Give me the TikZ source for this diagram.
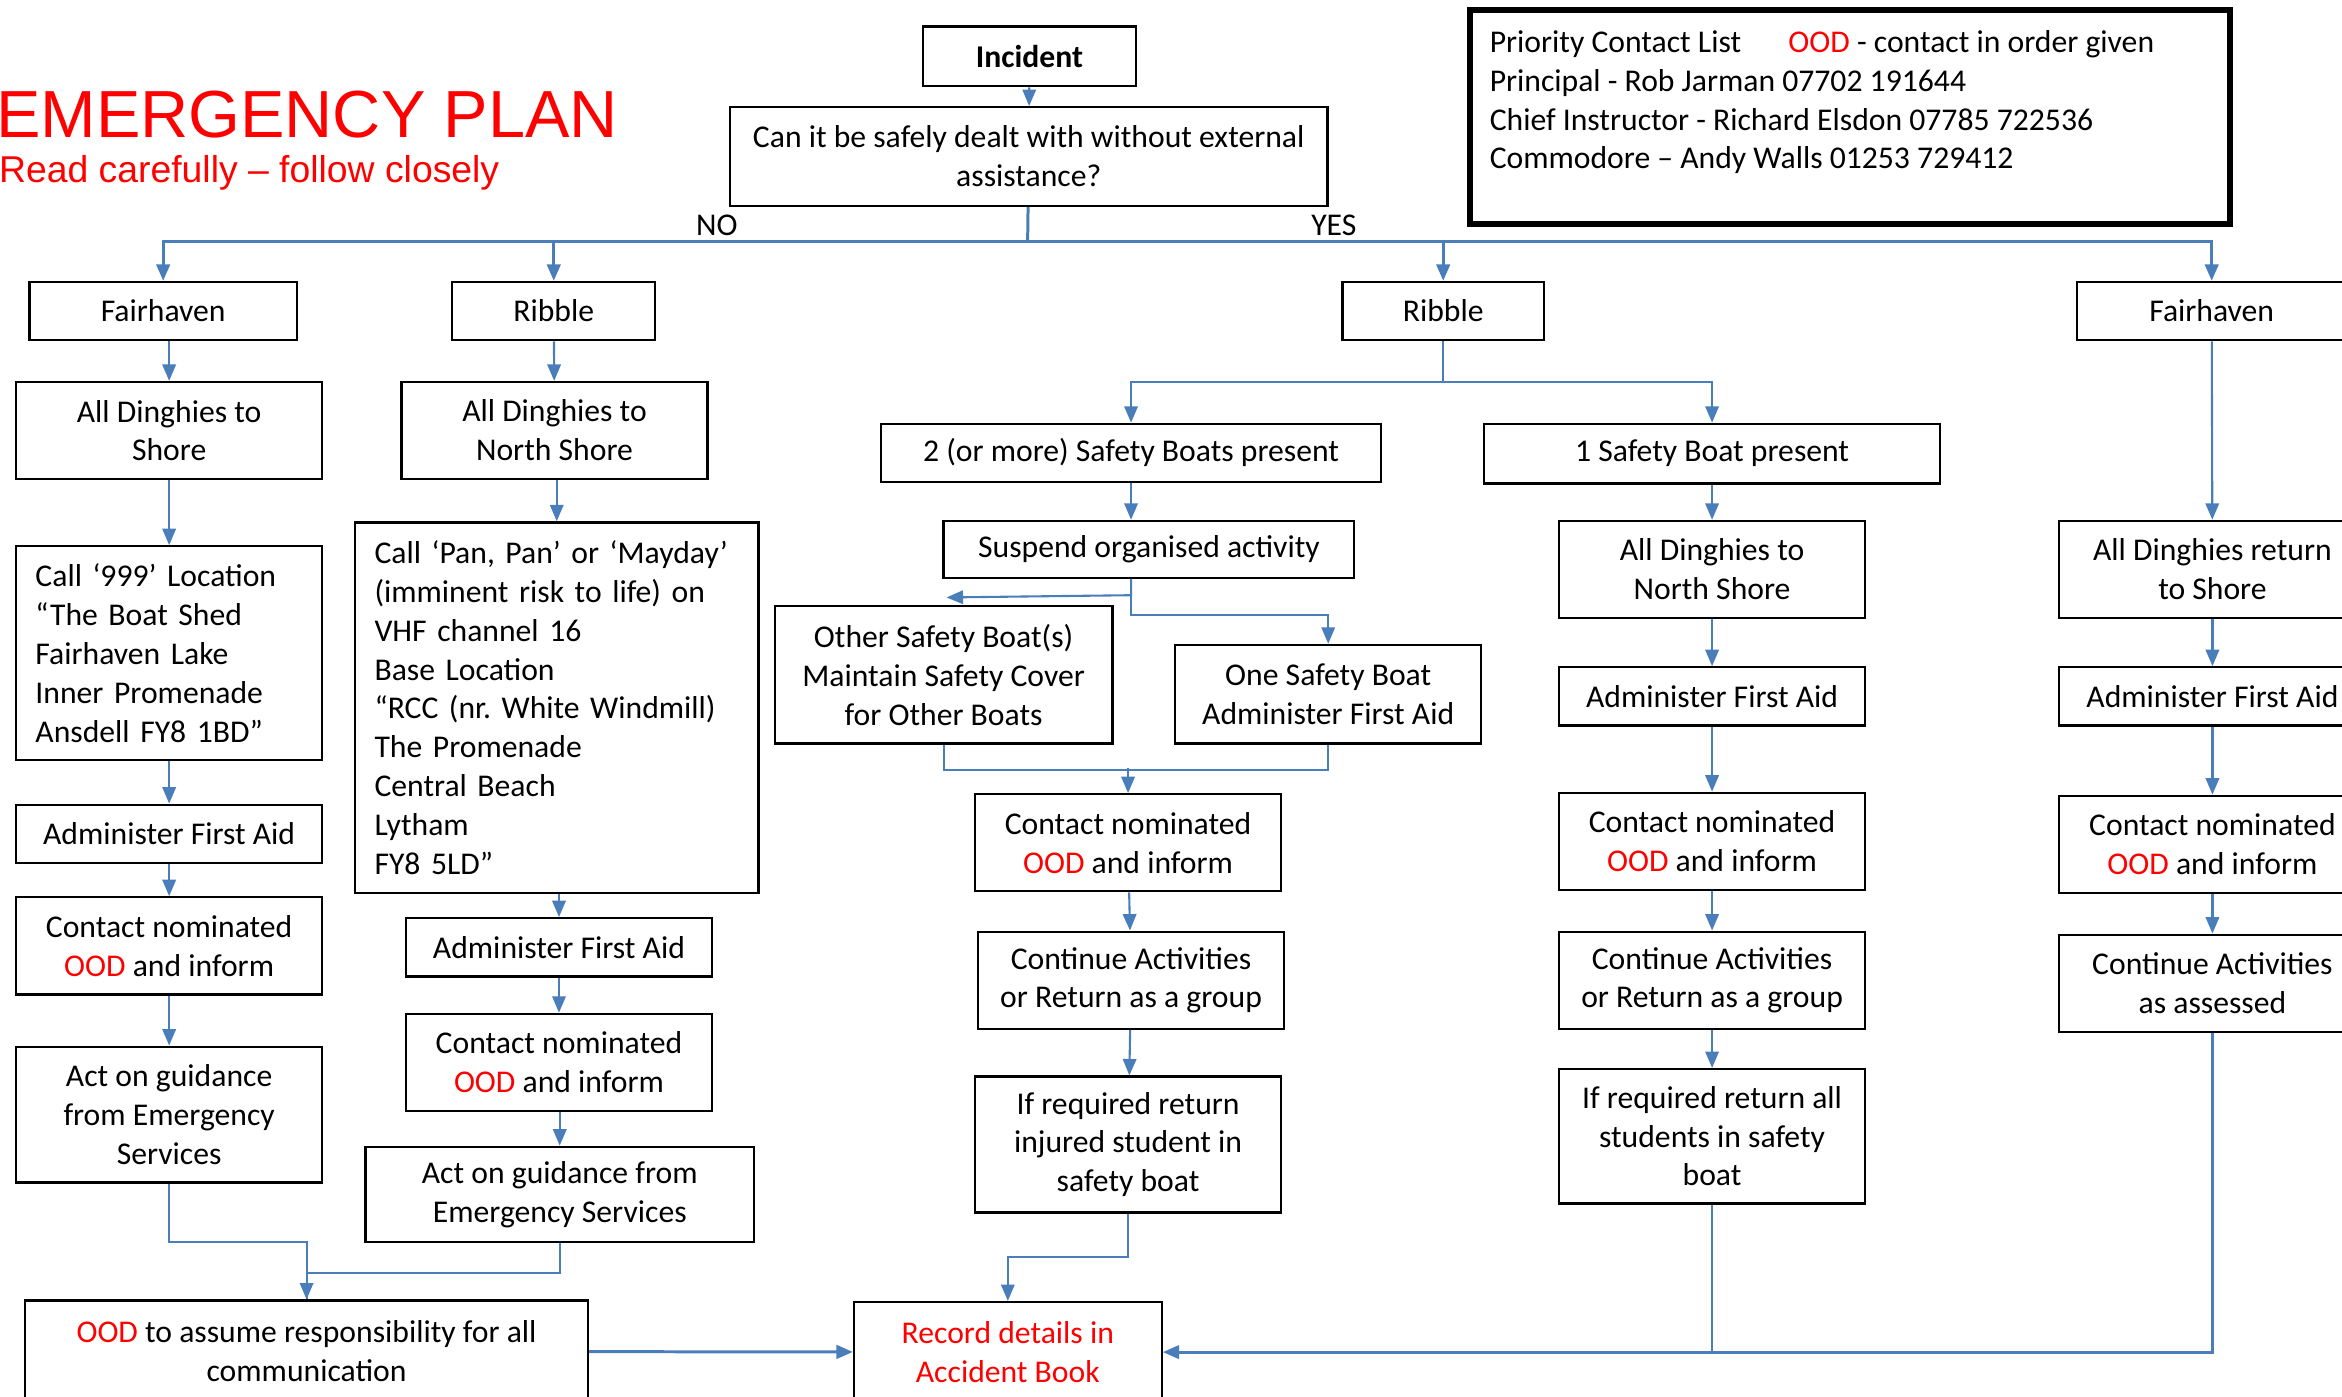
\documentclass[tikz,border=0pt]{standalone}
\usepackage{fontspec}
\setmainfont{Carlito}
\newfontfamily\titlefont{Liberation Sans}
\usepackage{tikz}
\usetikzlibrary{arrows.meta,calc}
\usetikzlibrary{positioning}
\newcommand{\TikZscale}{0.5}
\newcommand{\px}{*\TikZscale pt}
\newcommand{\OOD}{\textcolor{red}{OOD}}
\definecolor{lineblue}{HTML}{4A7EBB}
\frenchspacing
\tikzset{every picture/.style={x=\TikZscale pt, y=-\TikZscale pt, >={Triangle[length=5.5pt,width=4.5pt]}, font=\fontsize{10.6}{13}\selectfont}}
\tikzstyle{box}   = [draw, line width=0.75pt, inner sep=0pt, align=center, anchor=north west]
\tikzstyle{lbox}  = [box, align=left, inner xsep=6.5pt]
\tikzstyle{link}  = [draw=lineblue, line width=0.7pt]
\tikzstyle{to}    = [link, ->]

\begin{document}
\begin{tikzpicture}
	\useasboundingbox (0,0) rectangle (1568,935);

	% Titel
	\node[anchor=base west, inner sep=0pt, text=red, font=\titlefont\fontsize{22.3}{26}\selectfont] (title) at (-3,92) {EMERGENCY PLAN};
	\node[anchor=base west, inner sep=0pt, text=red, font=\titlefont\fontsize{12.5}{15}\selectfont] (subtitle) at (-1,122) {Read carefully – follow closely};

	% Kontaktliste
	\node[draw, line width=2pt, anchor=north west, minimum width=509\px, minimum height=143\px] (list) at (982,5) {};
	\node[anchor=north west, inner sep=0pt, align=left] (listtext) at (997,20) {\makebox[100pt][l]{Priority Contact List}\OOD{} - contact in order given\\Principal - Rob Jarman 07702 191644\\Chief Instructor - Richard Elsdon 07785 722536\\Commodore – Andy Walls 01253 729412};

	% Entscheidung
	\node[box, minimum width=143\px, minimum height=40\px, font=\bfseries\fontsize{10.6}{13}\selectfont] (incident) at (617,17) {Incident};
	\node[box, minimum width=400\px, minimum height=66\px] (question) at (488,71) {Can it be safely dealt with without external\\assistance?};
	\draw[to] (incident) -- (question);
	\coordinate (split) at (688,162);
	\draw[link, line width=1pt] (question) -- (split);
	\node (no) at (480,151) {NO};
	\node (yes) at (893,151) {YES};

	% Verzweigung
	\node[box, minimum width=179\px, minimum height=39\px] (havenL) at (19,188) {Fairhaven};
	\node[box, minimum width=136\px, minimum height=39\px] (ribbleL) at (302,188) {Ribble};
	\node[box, minimum width=135\px, minimum height=39\px] (ribbleR) at (898,188) {Ribble};
	\node[box, minimum width=180\px, minimum height=39\px] (havenR) at (1390,188) {Fairhaven};
	\draw[to, line width=1pt] (split) -| (havenL);
	\draw[to, line width=1pt] (split) -| (ribbleL);
	\draw[to, line width=1pt] (split) -| (ribbleR);
	\draw[to, line width=1pt] (split) -| (havenR);

	% Fairhaven - extern
	\node[box, minimum width=205\px, minimum height=65\px] (dinghyHL) at (10,255) {All Dinghies to\\Shore};
	\node[lbox, text width=89.5pt, minimum height=143\px] (callHL) at (10,365) {Call ‘999’ Location\\“The Boat Shed\\Fairhaven Lake\\Inner Promenade\\Ansdell FY8 1BD”};
	\node[box, minimum width=205\px, minimum height=39\px] (aidHL) at (10,538) {Administer First Aid};
	\node[box, minimum width=205\px, minimum height=65\px] (contactHL) at (10,600) {Contact nominated\\\OOD{} and inform};
	\node[box, minimum width=205\px, minimum height=91\px] (actHL) at (10,700) {Act on guidance\\from Emergency\\Services};
	\draw[to] (havenL.south -| dinghyHL.north) -- (dinghyHL);
	\draw[to] (dinghyHL) -- (callHL);
	\draw[to] (callHL) -- (aidHL);
	\draw[to] (aidHL) -- (contactHL);
	\draw[to] (contactHL) -- (actHL);

	% Ribble - extern
	\node[box, minimum width=205\px, minimum height=65\px] (dinghyRL) at (268,255) {All Dinghies to\\North Shore};
	\node[lbox, text width=122pt, minimum height=248\px] (callRL) at (237,349) {Call ‘Pan, Pan’ or ‘Mayday’\\(imminent risk to life) on\\VHF channel 16\\Base Location\\“RCC (nr. White Windmill)\\The Promenade\\Central Beach\\Lytham\\FY8 5LD”};
	\node[box, minimum width=205\px, minimum height=39\px] (aidRL) at (271,614) {Administer First Aid};
	\node[box, minimum width=205\px, minimum height=65\px] (contactRL) at (271,678) {Contact nominated\\\OOD{} and inform};
	\node[box, minimum width=260\px, minimum height=64\px] (actRL) at (244,767) {Act on guidance from\\Emergency Services};
	\draw[to] (ribbleL) -- (dinghyRL);
	\draw[to] (dinghyRL.south -| callRL.north) -- (callRL);
	\draw[to] (callRL.south -| aidRL.north) -- (aidRL);
	\draw[to] (aidRL) -- (contactRL);
	\draw[to] (contactRL.south -| actRL.north) -- (actRL);

	% Abschluss
	\node[box, minimum width=377\px, minimum height=68\px] (ood) at (16,870) {\OOD{} to assume responsibility for all\\communication};
	\node[box, minimum width=206\px, minimum height=67\px, text=red] (record) at (571,871) {Record details in\\Accident Book};
	\draw[to] (actHL.south) -- ++(0,39) -| (ood);
	\draw[link] (actRL.south) -- ++(0,20) -| (ood.north);
	\draw[to, line width=1pt] (ood) -- (record);

	% Ribble - intern
	\node[box, minimum width=335\px, minimum height=39\px] (twoBoats) at (589,283) {2 (or more) Safety Boats present};
	\node[box, minimum width=305\px, minimum height=40\px] (oneBoat) at (993,283) {1 Safety Boat present};
	\draw[to] (ribbleR.south) -- ++(0,27) -| (twoBoats);
	\draw[to] (ribbleR.south) -- ++(0,27) -| (oneBoat);

	% zwei Boote
	\node[box, minimum width=275\px, minimum height=38\px] (suspend) at (631,348) {Suspend organised activity};
	\node[box, minimum width=226\px, minimum height=92\px] (otherBoat) at (518,405) {Other Safety Boat(s)\\Maintain Safety Cover\\for Other Boats};
	\node[box, minimum width=205\px, minimum height=66\px] (oneAid) at (786,431) {One Safety Boat\\Administer First Aid};
	\node[box, minimum width=205\px, minimum height=65\px] (contactRT) at (652,531) {Contact nominated\\\OOD{} and inform};
	\node[box, minimum width=205\px, minimum height=65\px] (contRT) at (654,623) {Continue Activities\\or Return as a group};
	\node[box, minimum width=205\px, minimum height=91\px] (ifreqRT) at (652,720) {If required return\\injured student in\\safety boat};
	\draw[to] (twoBoats.south) -- (twoBoats.south |- suspend.north);
	\coordinate (susp) at (twoBoats.south |- suspend.south);
	\draw[to] (susp) -- ++(0,11) -- ($(otherBoat.north)+(2,-5)$);
	\draw[to] (susp) -- ++(0,24) -| (oneAid);
	\coordinate (join) at (755,514);
	\draw[link] (otherBoat.south) -- ++(0,17) -| (oneAid.south);
	\draw[to] (contactRT.north |- join) -- (contactRT);
	\draw[to] (contactRT) -- (contRT);
	\draw[to] (contRT) -- (ifreqRT);
	\draw[to] (ifreqRT.south) -- ++(0,29) -| (record);

	% ein Boot
	\node[box, minimum width=205\px, minimum height=65\px] (dinghyRO) at (1043,348) {All Dinghies to\\North Shore};
	\node[box, minimum width=205\px, minimum height=39\px] (aidRO) at (1043,446) {Administer First Aid};
	\node[box, minimum width=205\px, minimum height=65\px] (contactRO) at (1043,530) {Contact nominated\\\OOD{} and inform};
	\node[box, minimum width=205\px, minimum height=65\px] (contRO) at (1043,623) {Continue Activities\\or Return as a group};
	\node[box, minimum width=205\px, minimum height=90\px] (ifreqRO) at (1043,715) {If required return all\\students in safety\\boat};
	\draw[to] (oneBoat) -- (dinghyRO);
	\draw[to] (dinghyRO) -- (aidRO);
	\draw[to] (aidRO) -- (contactRO);
	\draw[to] (contactRO) -- (contRO);
	\draw[to] (contRO) -- (ifreqRO);
	\draw[link] (ifreqRO) -- (ifreqRO.south |- record.east);

	% Fairhaven - intern
	\node[box, minimum width=205\px, minimum height=65\px] (dinghyHR) at (1378,348) {All Dinghies return\\to Shore};
	\node[box, minimum width=205\px, minimum height=39\px] (aidHR) at (1378,446) {Administer First Aid};
	\node[box, minimum width=205\px, minimum height=65\px] (contactHR) at (1378,532) {Contact nominated\\\OOD{} and inform};
	\node[box, minimum width=205\px, minimum height=65\px] (contHR) at (1378,625) {Continue Activities\\as assessed};
	\draw[to] (havenR) -- (dinghyHR);
	\draw[to] (dinghyHR) -- (aidHR);
	\draw[to] (aidHR) -- (contactHR);
	\draw[to] (contactHR) -- (contHR);
	\draw[to, line width=1pt] (contHR) |- (record);
\end{tikzpicture}
\end{document}
